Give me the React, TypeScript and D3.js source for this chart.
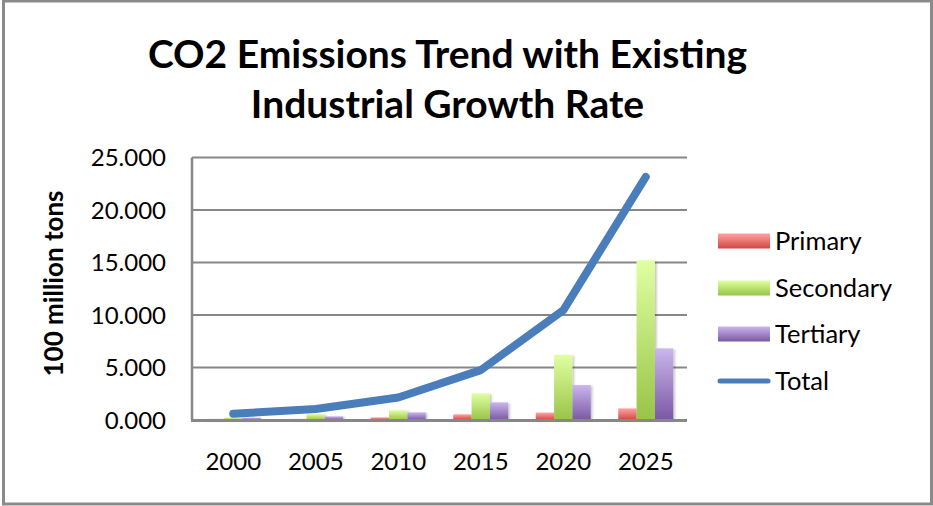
import React from "react";
import * as d3 from "d3";

// Emissions by sector, in units of 100 million tons
const years = ["2000", "2005", "2010", "2015", "2020", "2025"];
const primary = [0.1, 0.1, 0.25, 0.54, 0.7, 1.1];
const secondary = [0.25, 0.57, 0.92, 2.53, 6.2, 15.2];
const tertiary = [0.22, 0.35, 0.73, 1.68, 3.33, 6.82];
const total = [0.6, 1.05, 2.15, 4.75, 10.45, 23.15];
const yTicks = [0, 5, 10, 15, 20, 25];

const seriesNames = ["Primary", "Secondary", "Tertiary"];
const seriesValues = [primary, secondary, tertiary];

const W = 933;
const H = 506;
const FONT = "Lato, 'Open Sans', sans-serif";
const plot = { left: 192, right: 687, top: 157.5, bottom: 420 };

const gradients = [
  { id: "g-primary", top: "#ffa3a1", bottom: "#d04643" },
  { id: "g-secondary", top: "#e0ffa2", bottom: "#98c447" },
  { id: "g-tertiary", top: "#cbb6ec", bottom: "#7a58a5" },
];
const lineColor = "#4a7ebb";
const gridColor = "#878787";

export default function App() {
  const x = d3
    .scaleBand<string>()
    .domain(years)
    .range([plot.left, plot.right])
    .paddingInner(0)
    .paddingOuter(0);
  const xi = d3
    .scaleBand<string>()
    .domain(seriesNames)
    .range([0, x.bandwidth()])
    .paddingInner(0)
    .paddingOuter(0.75);
  const y = d3.scaleLinear().domain([0, 25]).range([plot.bottom, plot.top]);
  const fmt = d3.format(".3f");

  const line = d3
    .line<number>()
    .x((_, i) => (x(years[i]) as number) + x.bandwidth() / 2)
    .y((d) => y(d));

  const legendY = [241, 288, 334, 381];

  return (
    <svg
      width={W}
      height={H}
      style={{ position: "absolute", left: 0, top: 0, background: "#fff" }}
      fontFamily={FONT}
    >
      <defs>
        {gradients.map((g) => (
          <linearGradient key={g.id} id={g.id} x1="0" y1="0" x2="0" y2="1">
            <stop offset="0%" stopColor={g.top} />
            <stop offset="100%" stopColor={g.bottom} />
          </linearGradient>
        ))}
        <filter id="soft" x="-30%" y="-30%" width="160%" height="160%">
          <feDropShadow dx="1.5" dy="1" stdDeviation="1.2" floodColor="#000" floodOpacity="0.25" />
        </filter>
      </defs>

      <rect x={0} y={0} width={W} height={H} fill="#fff" />
      <rect x={3.5} y={1} width={928} height={503} fill="none" stroke="#8a8a8a" strokeWidth={3} />

      {/* Title */}
      <text x={447.5} y={68} textAnchor="middle" fontWeight="bold" fontSize={39} fill="#000">
        CO2 Emissions Trend with Existing
      </text>
      <text x={447.5} y={118} textAnchor="middle" fontWeight="bold" fontSize={39} fill="#000">
        Industrial Growth Rate
      </text>

      {/* Gridlines */}
      {yTicks.slice(1).map((t) => (
        <line
          key={t}
          x1={plot.left}
          x2={plot.right}
          y1={y(t)}
          y2={y(t)}
          stroke={gridColor}
          strokeWidth={2}
        />
      ))}

      {/* Y tick labels */}
      {yTicks.map((t) => (
        <text key={t} x={166} y={y(t)} dy="0.36em" textAnchor="end" fontSize={24} fill="#000">
          {fmt(t)}
        </text>
      ))}

      {/* Y axis title */}
      <text
        transform={`translate(63, 283.5) rotate(-90)`}
        textAnchor="middle"
        fontWeight="bold"
        fontSize={26}
        fill="#000"
      >
        100 million tons
      </text>

      {/* Bars */}
      <g filter="url(#soft)">
        {years.map((yr, i) =>
          seriesNames.map((s, j) => {
            const v = seriesValues[j][i];
            const bx = (x(yr) as number) + (xi(s) as number);
            return (
              <rect
                key={yr + s}
                x={bx}
                y={y(v)}
                width={xi.bandwidth()}
                height={y(0) - y(v)}
                fill={`url(#${gradients[j].id})`}
              />
            );
          })
        )}
      </g>

      {/* Axes */}
      <line x1={plot.left} x2={plot.left} y1={plot.top} y2={plot.bottom} stroke={gridColor} strokeWidth={2.5} />
      <line x1={plot.left - 1} x2={plot.right} y1={plot.bottom + 0.5} y2={plot.bottom + 0.5} stroke={gridColor} strokeWidth={3} />

      {/* Total line */}
      <path
        d={line(total) as string}
        fill="none"
        stroke={lineColor}
        strokeWidth={8}
        strokeLinecap="round"
        strokeLinejoin="round"
      />

      {/* X tick labels */}
      {years.map((yr) => (
        <text
          key={yr}
          x={(x(yr) as number) + x.bandwidth() / 2}
          y={470}
          textAnchor="middle"
          fontSize={24}
          fill="#000"
        >
          {yr}
        </text>
      ))}

      {/* Legend */}
      {seriesNames.map((s, j) => (
        <g key={s}>
          <rect x={718} y={legendY[j] - 7.5} width={52} height={15} fill={`url(#${gradients[j].id})`} />
          <text x={775} y={legendY[j]} dy="0.36em" fontSize={25.5} fill="#000">
            {s}
          </text>
        </g>
      ))}
      <line
        x1={720}
        x2={768}
        y1={legendY[3]}
        y2={legendY[3]}
        stroke={lineColor}
        strokeWidth={5}
        strokeLinecap="round"
      />
      <text x={775} y={legendY[3]} dy="0.36em" fontSize={25.5} fill="#000">
        Total
      </text>
    </svg>
  );
}
